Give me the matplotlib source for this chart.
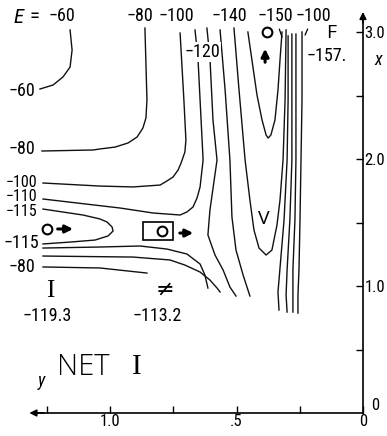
import matplotlib
matplotlib.use("Agg")
import matplotlib.pyplot as plt
from matplotlib.patches import Rectangle

plt.rcParams["font.family"] = ["Roboto Condensed", "Liberation Sans Narrow", "Liberation Sans"]

# contour lines: horizontal coordinate y, vertical coordinate x
c60_y = [1.158, 1.150, 1.158, 1.186, 1.225, 1.277]
c60_x = [3.016, 2.858, 2.724, 2.646, 2.583, 2.551]

c80_y = [0.862, 0.854, 0.858, 0.870, 0.893, 0.929, 0.980, 1.040, 1.067, 1.269]
c80_x = [3.031, 2.465, 2.323, 2.244, 2.173, 2.126, 2.094, 2.079, 2.071, 2.063]

c100_y = [0.723, 0.708, 0.700, 0.704, 0.719, 0.731, 0.751, 0.775, 0.802, 0.909, 1.040, 1.265]
c100_x = [2.992, 2.465, 2.150, 2.055, 1.969, 1.913, 1.858, 1.827, 1.795, 1.780, 1.787, 1.811]

c110_y = [0.664, 0.652, 0.640, 0.632, 0.644, 0.656, 0.672, 0.696, 0.723, 0.830, 0.960, 1.265]
c110_x = [3.016, 2.780, 2.307, 1.992, 1.780, 1.693, 1.622, 1.583, 1.559, 1.575, 1.614, 1.685]

c115_y = [1.265, 1.107, 1.040, 1.012, 0.992, 0.988, 1.008, 1.059, 1.158, 1.265]
c115_x = [1.606, 1.559, 1.528, 1.504, 1.465, 1.433, 1.394, 1.362, 1.346, 1.331]

saddle_y = [0.617, 0.605, 0.593, 0.577, 0.605, 0.613, 0.585, 0.553, 0.526, 0.502]
saddle_x = [3.031, 2.795, 2.307, 1.992, 1.598, 1.402, 1.244, 1.126, 0.992, 0.921]

c130_y = [0.565, 0.545, 0.526, 0.518, 0.502, 0.474, 0.447]
c130_x = [3.016, 2.543, 1.992, 1.543, 1.283, 1.087, 0.921]

c140_y = [0.510, 0.490, 0.466, 0.447, 0.431, 0.411, 0.383, 0.360, 0.340, 0.328, 0.316, 0.308, 0.304]
c140_x = [3.031, 2.543, 1.992, 1.677, 1.441, 1.299, 1.244, 1.283, 1.480, 1.677, 1.992, 2.465, 3.016]

c150_y = [0.455, 0.439, 0.419, 0.399, 0.383, 0.375, 0.364, 0.348, 0.336, 0.328, 0.320]
c150_x = [3.000, 2.780, 2.504, 2.307, 2.189, 2.165, 2.189, 2.307, 2.543, 2.780, 3.000]

w1_y = [0.296, 0.296, 0.300, 0.312, 0.328, 0.336, 0.332]
w1_x = [2.969, 2.465, 1.992, 1.520, 1.142, 0.953, 0.811]
w2_y = [0.281, 0.281, 0.281, 0.289, 0.300, 0.304, 0.300]
w2_x = [2.984, 2.465, 1.992, 1.520, 1.126, 0.929, 0.795]
w3_y = [0.265, 0.265, 0.265, 0.269, 0.277, 0.277, 0.277]
w3_x = [2.984, 2.465, 1.992, 1.520, 1.126, 0.929, 0.795]
w4_y = [0.241, 0.241, 0.245, 0.249, 0.253, 0.257, 0.257]
w4_x = [3.000, 2.465, 1.992, 1.520, 1.126, 0.929, 0.787]

d_y = [1.265, 1.040, 0.881, 0.775, 0.696, 0.644, 0.625, 0.613]
d_x = [1.299, 1.307, 1.315, 1.291, 1.252, 1.173, 1.087, 0.984]

e_y = [1.265, 0.909, 0.763, 0.704, 0.644, 0.605, 0.577, 0.565]
e_x = [1.236, 1.228, 1.205, 1.165, 1.110, 1.047, 0.984, 0.953]

f_y = [1.265, 1.040, 0.854]
f_x = [1.150, 1.142, 1.102]

# stationary points
min_I = (1.249, 1.449)
ts = (0.794, 1.433)
min_F = (0.379, 3.000)
energies = ["−119.3", "−113.2", "−157."]

fig = plt.figure(figsize=(3.87, 4.36), dpi=100)
ax = fig.add_axes([0, 0, 1, 1])
ax.set_xlim(1.435, -0.095)
ax.set_ylim(-0.181, 3.252)

lines = [(c60_y, c60_x), (c80_y, c80_x), (c100_y, c100_x), (c110_y, c110_x),
         (c115_y, c115_x), (saddle_y, saddle_x), (c130_y, c130_x),
         (c140_y, c140_x), (c150_y, c150_x), (w1_y, w1_x), (w2_y, w2_x),
         (w3_y, w3_x), (w4_y, w4_x), (d_y, d_x), (e_y, e_x), (f_y, f_x)]
for ys, xs in lines:
    ax.plot(ys, xs, color="#111111", lw=1.0, solid_joinstyle="round")

# axes
for side in ["top", "left"]:
    ax.spines[side].set_visible(False)
ax.spines["right"].set_position(("data", 0))
ax.spines["bottom"].set_position(("data", 0))
ax.spines["right"].set_bounds(0, 3.12)
ax.spines["bottom"].set_bounds(0, 1.30)
for side in ["right", "bottom"]:
    ax.spines[side].set_linewidth(1.2)
ax.yaxis.set_ticks_position("right")
ax.xaxis.set_ticks_position("bottom")
ax.set_yticks([1, 2, 3], ["1.0", "2.0", "3.0"])
ax.set_yticks([0.5, 1.5, 2.5], minor=True)
ax.set_xticks([0, 0.5, 1.0], ["0", ".5", "1.0"])
ax.set_xticks([0.25, 0.75, 1.25], minor=True)
ax.tick_params(which="both", direction="in", length=5, width=1, labelsize=12, pad=1)
ax.text(-0.050, 0.06, "0", fontsize=12, ha="center", va="center")
ax.annotate("", xy=(0, 3.18), xytext=(0, 3.05),
            arrowprops=dict(arrowstyle="-|>", color="k", lw=1.2, mutation_scale=10))
ax.annotate("", xy=(1.33, 0), xytext=(1.25, 0),
            arrowprops=dict(arrowstyle="-|>", color="k", lw=1.2, mutation_scale=10))
ax.text(-0.059, 2.78, "x", fontsize=13, style="italic", ha="center", va="center")
ax.text(1.273, 0.252, "y", fontsize=13, style="italic", ha="center", va="center")

# markers
ax.plot(*min_I, "o", ms=7, mfc="white", mec="k", mew=1.5)
ax.plot(*ts, "o", ms=7, mfc="white", mec="k", mew=1.5)
ax.plot(*min_F, "o", ms=7, mfc="white", mec="k", mew=1.5)
ax.add_patch(Rectangle((0.751, 1.362), 0.119, 0.142, fill=False, ec="k", lw=1.2))
arrow = dict(arrowstyle="-|>", color="k", lw=2.2, mutation_scale=11)
ax.annotate("", xy=(1.135, 1.449), xytext=(1.218, 1.449), arrowprops=arrow)
ax.annotate("", xy=(0.660, 1.417), xytext=(0.735, 1.417), arrowprops=arrow)
ax.annotate("", xy=(0.387, 2.890), xytext=(0.387, 2.740), arrowprops=arrow)

# contour labels
white = dict(facecolor="white", edgecolor="none", pad=0.5)
lab = dict(fontsize=13, ha="center", va="center")
ax.text(1.362, 3.118, "E", fontsize=15, style="italic", ha="center", va="center")
ax.text(1.300, 3.126, "=", fontsize=15, ha="center", va="center")
for t, yy in [("−60", 1.190), ("−80", 0.881), ("−100", 0.739), ("−140", 0.530)]:
    ax.text(yy, 3.126, t, **lab)
ax.annotate("−150", xy=(0.320, 2.96), xytext=(0.348, 3.126), textcoords="data",
            arrowprops=dict(arrowstyle="-", lw=0.9, color="k", shrinkA=1, shrinkB=0), **lab)
ax.annotate("−100", xy=(0.229, 2.976), xytext=(0.196, 3.126), textcoords="data",
            arrowprops=dict(arrowstyle="-", lw=0.9, color="k", shrinkA=1, shrinkB=0), **lab)
ax.text(0.636, 2.843, "−120", bbox=white, **lab)
for t, xx in [("−60", 2.535), ("−80", 2.079), ("−115", 1.339), ("−80", 1.150)]:
    ax.text(1.350, xx, t, **lab)
# the three stacked labels sit closer together, so they are a bit smaller
for t, xx in [("−100", 1.815), ("−110", 1.701), ("−115", 1.587)]:
    ax.text(1.350, xx, t, fontsize=11.5, ha="center", va="center")

ax.text(0.124, 2.995, "F", fontsize=14, family=["Open Sans", "DejaVu Sans"],
        ha="center", va="center")
ax.text(0.142, 2.811, energies[2], **lab)
ax.text(0.391, 1.528, "V", fontsize=14, family=["Open Sans", "DejaVu Sans"],
        ha="center", va="center")
ax.text(1.237, 0.961, "I", fontsize=18, family="Liberation Serif", ha="center", va="center")
ax.text(0.783, 0.969, "≠", fontsize=16, family="DejaVu Sans", ha="center", va="center")
ax.text(1.249, 0.764, energies[0], **lab)
ax.text(0.814, 0.764, energies[1], **lab)
ax.text(1.107, 0.362, "NET", fontsize=21, family=["Open Sans", "DejaVu Sans"],
        weight="light", ha="center", va="center")
ax.text(0.893, 0.362, "I", fontsize=21, family="Liberation Serif", ha="center", va="center")

fig.savefig("out.png", dpi=100)
